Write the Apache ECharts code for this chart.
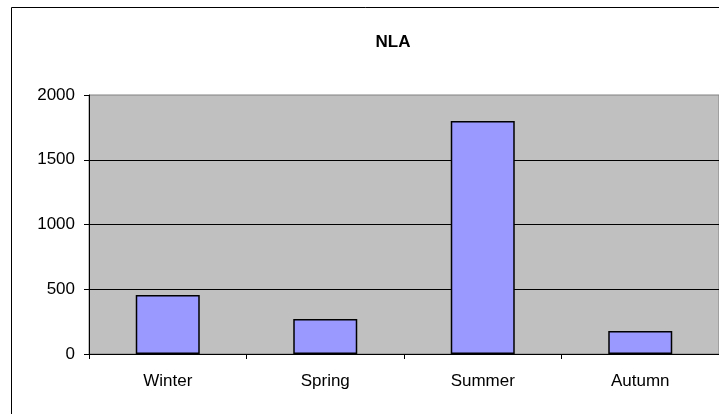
<!DOCTYPE html>
<html>
<head>
<meta charset="utf-8">
<script src="https://cdn.jsdelivr.net/npm/echarts@6/dist/echarts.min.js"></script>
<style>
  html, body { margin: 0; padding: 0; background: #fff; }
  #chart { width: 719px; height: 414px; }
</style>
</head>
<body>
<div id="chart"></div>
<script>
var seasons = ['Winter', 'Spring', 'Summer', 'Autumn'];
var nlaValues = [455, 270, 1800, 178];
var yTicks = [0, 500, 1000, 1500, 2000];

var myChart = echarts.init(document.getElementById('chart'));

var option = {
    backgroundColor: '#fff',
    animation: false,
    title: {
        text: 'NLA',
        left: 388,
        top: 29,
        textAlign: 'center',
        textStyle: {
            fontFamily: 'Liberation Sans',
            fontSize: 17,
            fontWeight: 'bold',
            color: '#000'
        }
    },
    graphic: [{
        type: 'rect',
        shape: { x: 11.5, y: 7.5, width: 800, height: 500 },
        style: { fill: 'none', stroke: '#000', lineWidth: 1 },
        silent: true
    }],
    grid: {
        left: 89,
        right: 0,
        top: 95,
        bottom: 60,
        show: true,
        backgroundColor: '#C0C0C0',
        borderColor: '#808080',
        borderWidth: 1
    },
    xAxis: {
        type: 'category',
        data: seasons,
        axisLine: { lineStyle: { color: '#000', width: 1 } },
        axisTick: { show: true, length: 5, lineStyle: { color: '#000' } },
        axisLabel: {
            margin: 19,
            fontFamily: 'Liberation Sans',
            fontSize: 17,
            color: '#000'
        }
    },
    yAxis: {
        type: 'value',
        min: yTicks[0],
        max: yTicks[yTicks.length - 1],
        interval: 500,
        axisLine: { show: true, lineStyle: { color: '#000', width: 1 } },
        axisTick: { show: true, length: 5, lineStyle: { color: '#000' } },
        axisLabel: {
            margin: 14,
            fontFamily: 'Liberation Sans',
            fontSize: 17,
            color: '#000',
            formatter: function (v) { return String(v); }
        },
        splitLine: {
            show: true,
            showMaxLine: false,
            lineStyle: { color: '#000', width: 1 }
        }
    },
    series: [{
        name: 'NLA',
        type: 'bar',
        barWidth: 64,
        data: nlaValues,
        itemStyle: {
            color: '#9999FF',
            borderColor: '#000',
            borderWidth: 1.5
        }
    }]
};

myChart.setOption(option);
</script>
</body>
</html>
